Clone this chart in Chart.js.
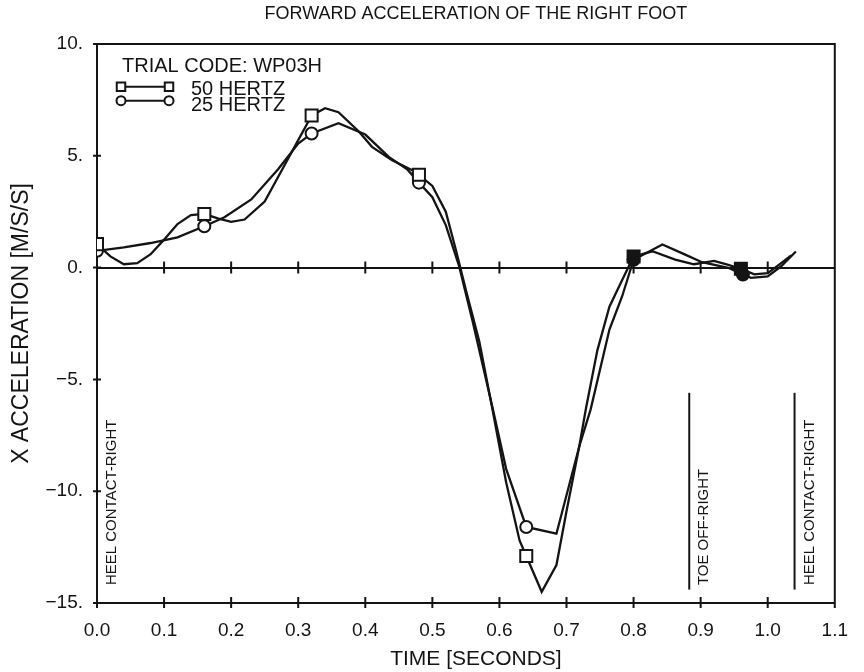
<!DOCTYPE html>
<html>
<head>
<meta charset="utf-8">
<title>Forward acceleration of the right foot</title>
<script src="https://cdn.jsdelivr.net/npm/chart.js@4.4.1/dist/chart.umd.min.js"></script>
<style>
  html, body { margin: 0; padding: 0; background: #fff; }
  #wrap { width: 864px; height: 672px; }
</style>
</head>
<body>
<div id="wrap"><canvas id="chart" width="864" height="672"></canvas></div>
<script>
// ── Data ─────────────────────────────────────────────────────────────────────
const chartTitle = "FORWARD ACCELERATION OF THE RIGHT FOOT";
const xTitle     = "TIME [SECONDS]";
const yTitle     = "X ACCELERATION [M/S/S]";
const trialCode  = "TRIAL CODE: WP03H";

// 50 Hz trace (seconds, m/s/s)
const time50  = [0.00, 0.02, 0.04, 0.06, 0.08, 0.10, 0.12, 0.14, 0.16, 0.18,
                 0.20, 0.22, 0.25, 0.28, 0.30, 0.32, 0.34, 0.36, 0.39, 0.41,
                 0.44, 0.47, 0.48, 0.50, 0.52, 0.535, 0.55, 0.57, 0.59, 0.61,
                 0.63, 0.64, 0.663, 0.685, 0.70, 0.719, 0.729, 0.746, 0.764, 0.783,
                 0.80, 0.813, 0.828, 0.862, 0.89, 0.92, 0.94, 0.96, 0.98, 1.00,
                 1.02, 1.035];
const accel50 = [1.05, 0.5, 0.15, 0.2, 0.6, 1.25, 1.95, 2.35, 2.4, 2.2,
                 2.05, 2.15, 2.95, 4.6, 5.7, 6.8, 7.13, 6.95, 6.1, 5.4,
                 4.8, 4.35, 4.15, 3.65, 2.5, 0.8, -1.0, -3.3, -6.4, -9.6,
                 -12.2, -12.9, -14.5, -13.3, -10.9, -8.0, -6.3, -3.7, -1.75, -0.55,
                 0.5, 0.6, 0.73, 0.36, 0.15, 0.3, 0.13, -0.05, -0.3, -0.25,
                 0.2, 0.55];
const markers50 = [0, 8, 15, 22, 31, 40, 47];   // indices that carry a square
const filled50  = [40, 47];

// 25 Hz trace
const time25  = [0.00, 0.04, 0.08, 0.12, 0.16, 0.19, 0.23, 0.27, 0.30, 0.32,
                 0.36, 0.40, 0.435, 0.463, 0.48, 0.50, 0.52, 0.54, 0.56, 0.59,
                 0.61, 0.64, 0.685, 0.719, 0.736, 0.764, 0.783, 0.80, 0.843, 0.877,
                 0.902, 0.941, 0.963, 0.975, 1.00, 1.02, 1.042];
const accel25 = [0.75, 0.9, 1.1, 1.35, 1.85, 2.25, 3.05, 4.4, 5.55, 6.0,
                 6.46, 5.95, 4.95, 4.38, 3.8, 3.15, 1.9, 0.05, -2.4, -6.3,
                 -9.0, -11.6, -11.9, -8.0, -6.34, -2.77, -1.28, 0.35, 1.03, 0.58,
                 0.24, -0.01, -0.31, -0.46, -0.39, 0.06, 0.72];
const markers25 = [0, 4, 9, 14, 21, 27, 32];    // indices that carry a circle
const filled25  = [27, 32];

// Gait events drawn as vertical bars near the time axis
const eventTimes  = [0.0, 0.883, 1.04];
const eventLabels = ["HEEL CONTACT-RIGHT", "TOE OFF-RIGHT", "HEEL CONTACT-RIGHT"];
const eventTop    = -5.6;
const eventBottom = -14.4;
const eventTextAt = -14.2;

// Axis ticks (the print labels every tick with a trailing point)
const xTickLabels = ["0.0", "0.1", "0.2", "0.3", "0.4", "0.5", "0.6", "0.7", "0.8", "0.9", "1.0", "1.1"];
const yTickLabels = ["\u221215.", "\u221210.", "\u22125.", "0.", "5.", "10."];

// ── Styling ──────────────────────────────────────────────────────────────────
const INK  = "#141414";
const FONT = "'Liberation Sans', Arial, Helvetica, sans-serif";

function toPoints(xs, ys) {
  return xs.map((t, i) => ({ x: t, y: ys[i] }));
}
function radii(n, marks, r) {
  return Array.from({ length: n }, (_, i) => marks.includes(i) ? r : 0);
}
function fills(n, filled) {
  return Array.from({ length: n }, (_, i) => filled.includes(i) ? INK : "#fff");
}

// ── Plugins: titles, frame + crossing ticks, gait events, in-plot legend ────
// The printed chart title and time label sit a little right of the plot
// centre, so both are drawn here rather than by Chart.js.
const offsetTitles = {
  id: "offsetTitles",
  afterDraw(chart) {
    const { ctx, chartArea: a } = chart;
    const cx = (a.left + a.right) / 2 + 10;
    ctx.save();
    ctx.fillStyle = INK;
    ctx.textAlign = "center";
    ctx.textBaseline = "middle";
    ctx.font = "18px " + FONT;
    ctx.fillText(chartTitle, cx, 14.5);
    ctx.font = "21px " + FONT;
    ctx.fillText(xTitle, cx, 659);
    ctx.restore();
  }
};

const frameTicks = {
  id: "frameTicks",
  afterDatasetsDraw(chart) {
    const { ctx, chartArea: a, scales: { x, y } } = chart;
    ctx.save();
    ctx.strokeStyle = INK;
    ctx.lineWidth = 2;
    ctx.beginPath();
    ctx.moveTo(a.left, a.top);
    ctx.lineTo(a.right, a.top);
    ctx.lineTo(a.right, a.bottom);
    const y0 = y.getPixelForValue(0);
    x.ticks.forEach(t => {
      const px = x.getPixelForValue(t.value);
      ctx.moveTo(px, a.bottom - 6); ctx.lineTo(px, a.bottom + 5);
      ctx.moveTo(px, y0 - 6);       ctx.lineTo(px, y0 + 6);
    });
    y.ticks.forEach(t => {
      const py = y.getPixelForValue(t.value);
      ctx.moveTo(a.left - 4, py); ctx.lineTo(a.left + 4, py);
    });
    ctx.stroke();
    ctx.restore();
  }
};

const gaitEvents = {
  id: "gaitEvents",
  afterDatasetsDraw(chart) {
    const { ctx, scales: { x, y } } = chart;
    ctx.save();
    ctx.strokeStyle = INK;
    ctx.fillStyle = INK;
    ctx.lineWidth = 2;
    ctx.font = "15px " + FONT;
    ctx.textAlign = "left";
    ctx.textBaseline = "alphabetic";
    eventTimes.forEach((t, i) => {
      const px = x.getPixelForValue(t);
      ctx.beginPath();
      ctx.moveTo(px, y.getPixelForValue(eventTop));
      ctx.lineTo(px, y.getPixelForValue(eventBottom));
      ctx.stroke();
      ctx.save();
      ctx.translate(px + 19, y.getPixelForValue(eventTextAt));
      ctx.rotate(-Math.PI / 2);
      ctx.fillText(eventLabels[i], 0, 0);
      ctx.restore();
    });
    ctx.restore();
  }
};

const trialLegend = {
  id: "trialLegend",
  afterDatasetsDraw(chart) {
    const { ctx, chartArea: a } = chart;
    ctx.save();
    ctx.fillStyle = INK;
    ctx.strokeStyle = INK;
    ctx.font = "20px " + FONT;
    ctx.textBaseline = "alphabetic";
    ctx.fillText(trialCode, a.left + 25, a.top + 27.5);
    chart.data.datasets.forEach((ds, i) => {
      const ly = a.top + 42.7 + i * 14;
      ctx.lineWidth = 2;
      ctx.beginPath();
      ctx.moveTo(a.left + 24, ly);
      ctx.lineTo(a.left + 72, ly);
      ctx.stroke();
      [a.left + 24, a.left + 72].forEach(px => {
        ctx.fillStyle = "#fff";
        const r = ds.pointStyle === "rect" ? 6 : 4.5;
        Chart.helpers.drawPoint(ctx, { pointStyle: ds.pointStyle, radius: r, borderWidth: 2, rotation: 0 }, px, ly);
      });
      ctx.fillStyle = INK;
      ctx.fillText(ds.label, a.left + 94, a.top + 51 + i * 16);
    });
    ctx.restore();
  }
};

// ── Chart ────────────────────────────────────────────────────────────────────
new Chart(document.getElementById("chart").getContext("2d"), {
  type: "line",
  data: {
    datasets: [
      {
        label: "50 HERTZ",
        data: toPoints(time50, accel50),
        borderColor: INK,
        borderWidth: 2.3,
        tension: 0,
        pointStyle: "rect",
        pointRadius: radii(time50.length, markers50, 8.5),
        pointBackgroundColor: fills(time50.length, filled50),
        pointBorderColor: INK,
        pointBorderWidth: 2
      },
      {
        label: "25 HERTZ",
        data: toPoints(time25, accel25),
        borderColor: INK,
        borderWidth: 2.3,
        tension: 0,
        pointStyle: "circle",
        pointRadius: radii(time25.length, markers25, 6),
        pointBackgroundColor: fills(time25.length, filled25),
        pointBorderColor: INK,
        pointBorderWidth: 2
      }
    ]
  },
  options: {
    responsive: false,
    animation: false,
    layout: { padding: { left: 0, right: 23, top: 44, bottom: 0 } },
    plugins: {
      legend: { display: false },
      tooltip: { enabled: false },
      title: { display: false }
    },
    scales: {
      x: {
        type: "linear",
        min: 0,
        max: 1.1,
        afterFit: s => { s.height = 69; },
        afterBuildTicks: s => { s.ticks = xTickLabels.map((_, i) => ({ value: i / 10 })); },
        ticks: {
          color: INK,
          font: { family: FONT, size: 19 },
          padding: 16,
          maxRotation: 0,
          autoSkip: false,
          callback: (v, i) => xTickLabels[i]
        },
        grid: { display: false, drawTicks: false },
        border: { display: true, color: INK, width: 2 },
        title: { display: false }
      },
      y: {
        type: "linear",
        min: -15,
        max: 10,
        afterFit: s => { s.width = 97; },
        ticks: {
          stepSize: 5,
          color: INK,
          font: { family: FONT, size: 19 },
          padding: 14,
          callback: (v, i) => yTickLabels[i]
        },
        grid: {
          drawTicks: false,
          lineWidth: 2,
          color: c => (c.tick && c.tick.value === 0) ? INK : "rgba(0,0,0,0)"
        },
        border: { display: true, color: INK, width: 2 },
        title: {
          display: true,
          text: yTitle,
          color: INK,
          font: { family: FONT, size: 23 },
          padding: { top: 8, bottom: 0 }
        }
      }
    }
  },
  plugins: [offsetTitles, frameTicks, gaitEvents, trialLegend]
});
</script>
</body>
</html>
